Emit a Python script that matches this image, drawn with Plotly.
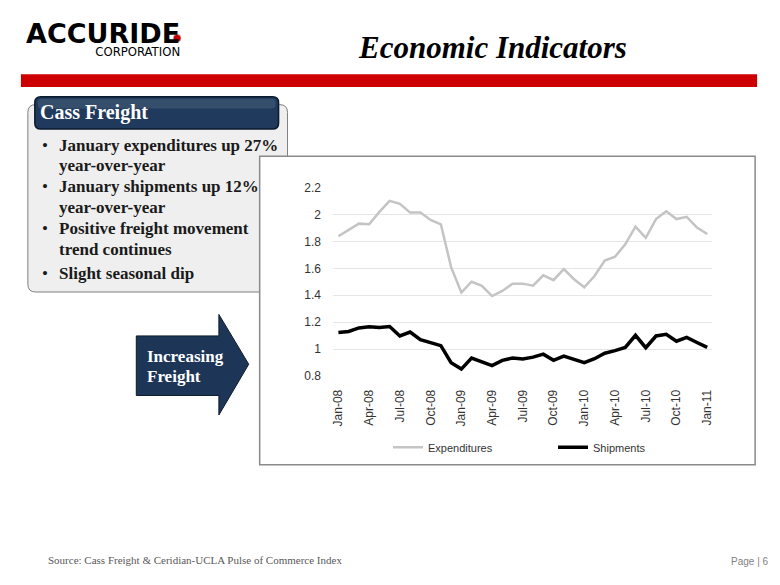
import plotly.graph_objects as go

W, H = 780, 585

months = ["Jan-08", "Feb-08", "Mar-08", "Apr-08", "May-08", "Jun-08", "Jul-08", "Aug-08", "Sep-08",
          "Oct-08", "Nov-08", "Dec-08", "Jan-09", "Feb-09", "Mar-09", "Apr-09", "May-09", "Jun-09",
          "Jul-09", "Aug-09", "Sep-09", "Oct-09", "Nov-09", "Dec-09", "Jan-10", "Feb-10", "Mar-10",
          "Apr-10", "May-10", "Jun-10", "Jul-10", "Aug-10", "Sep-10", "Oct-10", "Nov-10", "Dec-10",
          "Jan-11"]

expenditures = [1.838, 1.886, 1.932, 1.927, 2.019, 2.101, 2.079, 2.014, 2.014, 1.959, 1.927,
                1.609, 1.420, 1.500, 1.469, 1.394, 1.432, 1.486, 1.486, 1.471, 1.548, 1.512,
                1.594, 1.519, 1.459, 1.543, 1.657, 1.686, 1.778, 1.910, 1.826, 1.966, 2.024,
                1.966, 1.983, 1.903, 1.855]

shipments = [1.123, 1.131, 1.157, 1.165, 1.160, 1.167, 1.097, 1.126, 1.070, 1.046, 1.025,
             0.899, 0.851, 0.933, 0.904, 0.877, 0.916, 0.933, 0.926, 0.940, 0.962, 0.916,
             0.947, 0.921, 0.899, 0.928, 0.969, 0.988, 1.012, 1.102, 1.010, 1.097, 1.109,
             1.058, 1.087, 1.049, 1.012]

tick_labels = ["Jan-08", "Apr-08", "Jul-08", "Oct-08", "Jan-09", "Apr-09", "Jul-09", "Oct-09",
               "Jan-10", "Apr-10", "Jul-10", "Oct-10", "Jan-11"]
y_ticks = [0.8, 1.0, 1.2, 1.4, 1.6, 1.8, 2.0, 2.2]
y_tick_text = ["0.8", "1", "1.2", "1.4", "1.6", "1.8", "2", "2.2"]

bullets = ["January expenditures up 27%", "year-over-year", "January shipments up 12%",
           "year-over-year", "Positive freight movement", "trend continues", "Slight seasonal dip"]
bullet_marks = [True, False, True, False, True, False, True]


def X(px):
    return px / W


def Y(py):
    return 1 - py / H


def rrect(x0, y0, x1, y1, r):
    pts = [
        f"M {X(x0 + r)},{Y(y0)}", f"L {X(x1 - r)},{Y(y0)}", f"Q {X(x1)},{Y(y0)} {X(x1)},{Y(y0 + r)}",
        f"L {X(x1)},{Y(y1 - r)}", f"Q {X(x1)},{Y(y1)} {X(x1 - r)},{Y(y1)}",
        f"L {X(x0 + r)},{Y(y1)}", f"Q {X(x0)},{Y(y1)} {X(x0)},{Y(y1 - r)}",
        f"L {X(x0)},{Y(y0 + r)}", f"Q {X(x0)},{Y(y0)} {X(x0 + r)},{Y(y0)}", "Z"]
    return " ".join(pts)


def poly(points):
    return "M " + " L ".join(f"{X(a)},{Y(b)}" for a, b in points) + " Z"


fig = go.Figure()
fig.add_trace(go.Scatter(x=months, y=expenditures, mode="lines", name="Expenditures",
                         line=dict(color="#c4c4c4", width=2.5)))
fig.add_trace(go.Scatter(x=months, y=shipments, mode="lines", name="Shipments",
                         line=dict(color="#000000", width=3.5)))

shapes = [
    # red bar
    dict(type="rect", xref="paper", yref="paper", x0=X(19), x1=X(759), y0=Y(82), y1=Y(69),
         fillcolor="#cc0000", line=dict(width=0), layer="below"),
    # gray text box
    dict(type="path", xref="paper", yref="paper", path=rrect(26, 100, 287, 292, 8),
         fillcolor="#efefef", line=dict(color="#7f7f7f", width=1), layer="below"),
    # header
    dict(type="path", xref="paper", yref="paper", path=rrect(33, 92, 278, 125, 6),
         fillcolor="#1f3a5c", line=dict(color="#0b1a2c", width=1.5), layer="below"),
    dict(type="path", xref="paper", yref="paper", path=rrect(36, 94, 275, 104, 4),
         fillcolor="rgba(255,255,255,0.10)", line=dict(width=0), layer="below"),
    # chart box
    dict(type="rect", xref="paper", yref="paper", x0=X(259), x1=X(757), y0=Y(469), y1=Y(153),
         fillcolor="#ffffff", line=dict(color="#8a8a8a", width=1.5), layer="below"),
    # arrow
    dict(type="path", xref="paper", yref="paper",
         path=poly([(135, 337), (218, 337), (218, 315), (248, 366), (218, 418), (218, 398), (135, 398)]),
         fillcolor="#1d3658", line=dict(color="#0d1b2a", width=1), layer="below"),
]

ann = [
    dict(text="<span style='font-family:\"DejaVu Sans\";font-size:27px'><b>ACCURIDE</b></span><br>"
              "<span style='font-size:13px'>CORPORATION</span>",
         x=X(181), y=Y(55), xanchor="right", yanchor="bottom", align="right",
         font=dict(family="DejaVu Sans Condensed, DejaVu Sans", size=10, color="#000000")),
    dict(text="<b><i>Economic Indicators</i></b>", x=X(493), y=Y(42), xanchor="center", yanchor="middle",
         font=dict(family="Liberation Serif", size=31, color="#000000")),
    dict(text="<b>Cass Freight</b>", x=X(36), y=Y(108), xanchor="left", yanchor="middle",
         font=dict(family="Liberation Serif", size=20, color="#ffffff")),
    dict(text="<b>Increasing</b>", x=X(144), y=Y(358), xanchor="left", yanchor="middle",
         font=dict(family="Liberation Serif", size=17, color="#ffffff")),
    dict(text="<b>Freight</b>", x=X(144), y=Y(379), xanchor="left", yanchor="middle",
         font=dict(family="Liberation Serif", size=17, color="#ffffff")),
    dict(text="Source: Cass Freight &amp; Ceridian-UCLA Pulse of Commerce Index", x=X(44), y=Y(567),
         xanchor="left", yanchor="middle", font=dict(family="Liberation Serif", size=11, color="#595959")),
    dict(text="Page | 6", x=X(773), y=Y(568), xanchor="right", yanchor="middle",
         font=dict(family="Liberation Sans", size=10, color="#7f7f7f")),
]

bullet_y = [142, 162, 184, 205, 227, 248, 273]
for t, mark, yy in zip(bullets, bullet_marks, bullet_y):
    if mark:
        ann.append(dict(text="•", x=X(38), y=Y(yy), xanchor="left", yanchor="middle",
                        font=dict(family="Liberation Serif", size=17, color="#1a1a1a")))
    ann.append(dict(text=f"<b>{t}</b>", x=X(55), y=Y(yy), xanchor="left", yanchor="middle",
                    font=dict(family="Liberation Serif", size=17, color="#1a1a1a")))

for a in ann:
    a.update(xref="paper", yref="paper", showarrow=False)

# red dot of logo (drawn above text)
shapes.append(dict(type="circle", xref="paper", yref="paper", x0=X(172), x1=X(180), y0=Y(36), y1=Y(28),
                   fillcolor="#c00000", line=dict(color="#ffffff", width=0.5), layer="above"))

fig.update_layout(
    width=W, height=H,
    margin=dict(l=0, r=0, t=0, b=0),
    paper_bgcolor="#ffffff",
    plot_bgcolor="rgba(0,0,0,0)",
    shapes=shapes,
    annotations=ann,
    showlegend=True,
    legend=dict(orientation="h", x=X(388), y=Y(451), xanchor="left", yanchor="middle",
                font=dict(family="Liberation Sans", size=11, color="#333333"),
                bgcolor="rgba(0,0,0,0)", entrywidth=120, itemwidth=30),
    xaxis=dict(domain=[X(333), X(714)], type="category", range=[-0.5, 36.5],
               tickmode="array", tickvals=tick_labels, ticktext=tick_labels, tickangle=-90,
               showgrid=False, showline=False, zeroline=False,
               ticks="outside", ticklen=8, tickcolor="rgba(0,0,0,0)",
               tickfont=dict(family="Liberation Sans", size=12, color="#333333")),
    yaxis=dict(domain=[Y(378), Y(185)], range=[0.8, 2.2],
               tickmode="array", tickvals=y_ticks, ticktext=y_tick_text,
               showgrid=True, gridcolor="#e6e6e6", gridwidth=1, showline=False, zeroline=False,
               ticks="outside", ticklen=9, tickcolor="rgba(0,0,0,0)",
               tickfont=dict(family="Liberation Sans", size=12, color="#333333")),
)

fig.write_html("out.html", config={"displayModeBar": False},
               post_script="document.body.style.margin='0';document.body.style.padding='0';"
                           "document.documentElement.style.overflow='hidden';")
